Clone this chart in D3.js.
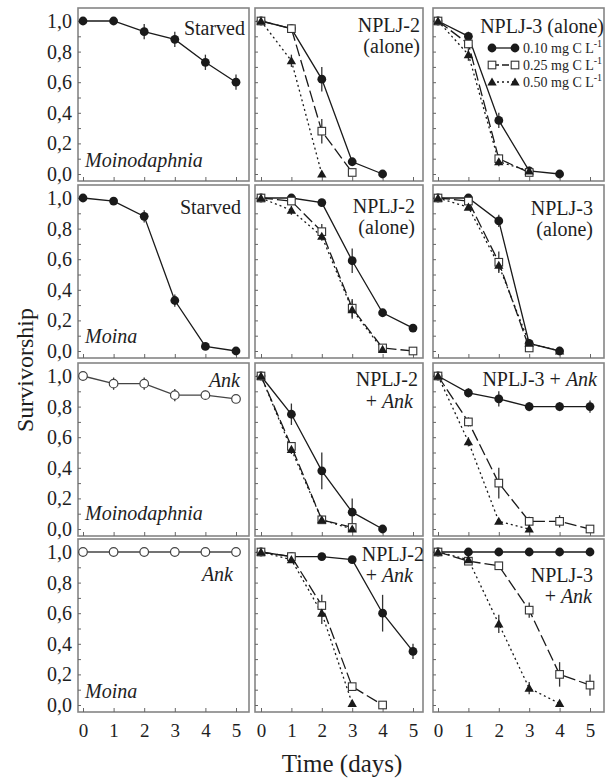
<!DOCTYPE html>
<html>
<head>
<meta charset="utf-8">
<script src="https://cdn.jsdelivr.net/npm/d3@7"></script>
<style>
  body { margin: 0; background: #fff; }
  svg text { font-family: 'Liberation Serif', 'Times New Roman', serif; fill: #1e1e1e; }
</style>
</head>
<body>
<svg id="chart" width="606" height="782"></svg>
<script>
'use strict'

// shared axes
const days = [0, 1, 2, 3, 4, 5];
const yTickValues = [0.0, 0.1, 0.2, 0.3, 0.4, 0.5, 0.6, 0.7, 0.8, 0.9, 1.0];
const yLabelValues = [0.0, 0.2, 0.4, 0.6, 0.8, 1.0];
const legendLabels = ['0.10 mg C L', '0.25 mg C L', '0.50 mg C L'];

// row 1 - Moinodaphnia, food alone
const mdStarved = [1.00, 1.00, 0.93, 0.88, 0.73, 0.60];
const mdStarvedSe = [0, 0, 0.05, 0.05, 0.05, 0.05];
const mdN2a010 = [1.00, 0.95, 0.62, 0.08, 0.00];
const mdN2a010se = [0, 0, 0.08, 0, 0];
const mdN2a025 = [1.00, 0.95, 0.28, 0.01];
const mdN2a025se = [0, 0, 0.08, 0];
const mdN2a050 = [1.00, 0.74, 0.00];
const mdN2a050se = [0, 0.04, 0];
const mdN3a010 = [1.00, 0.90, 0.35, 0.02, 0.00];
const mdN3a010se = [0, 0.03, 0.05, 0, 0];
const mdN3a025 = [1.00, 0.85, 0.10, 0.01];
const mdN3a025se = [0, 0.03, 0.03, 0];
const mdN3a050 = [1.00, 0.78, 0.08, 0.02];
const mdN3a050se = [0, 0.04, 0.03, 0];

// row 2 - Moina, food alone
const moStarved = [1.00, 0.98, 0.88, 0.33, 0.03, 0.00];
const moStarvedSe = [0, 0, 0.04, 0.04, 0, 0];
const moN2a010 = [1.00, 1.00, 0.97, 0.59, 0.25, 0.15];
const moN2a010se = [0, 0, 0, 0.08, 0, 0.02];
const moN2a025 = [1.00, 0.98, 0.78, 0.28, 0.02, 0.00];
const moN2a025se = [0, 0, 0.05, 0.06, 0, 0];
const moN2a050 = [1.00, 0.92, 0.75, 0.27, 0.01];
const moN2a050se = [0, 0.03, 0.03, 0.06, 0];
const moN3a010 = [1.00, 1.00, 0.85, 0.05, 0.00];
const moN3a010se = [0, 0, 0.04, 0, 0];
const moN3a025 = [1.00, 0.98, 0.58, 0.02];
const moN3a025se = [0, 0, 0.07, 0];
const moN3a050 = [1.00, 0.94, 0.56, 0.05, 0.00];
const moN3a050se = [0, 0, 0.04, 0, 0];

// row 3 - Moinodaphnia with Ankistrodesmus
const mdAnk = [1.00, 0.95, 0.95, 0.875, 0.875, 0.85];
const mdAnkSe = [0, 0.04, 0.04, 0.04, 0.03, 0];
const mdN2k010 = [1.00, 0.75, 0.38, 0.11, 0.00];
const mdN2k010se = [0, 0.07, 0.12, 0.09, 0];
const mdN2k025 = [1.00, 0.54, 0.06, 0.01];
const mdN2k025se = [0, 0, 0, 0];
const mdN2k050 = [1.00, 0.52, 0.06, 0.00];
const mdN2k050se = [0, 0.03, 0, 0];
const mdN3k010 = [1.00, 0.89, 0.85, 0.80, 0.80, 0.80];
const mdN3k010se = [0, 0.03, 0.05, 0.03, 0.03, 0.04];
const mdN3k025 = [1.00, 0.70, 0.30, 0.05, 0.05, 0.00];
const mdN3k025se = [0, 0.03, 0.10, 0.03, 0.04, 0];
const mdN3k050 = [1.00, 0.57, 0.05, 0.00];
const mdN3k050se = [0, 0.03, 0, 0];

// row 4 - Moina with Ankistrodesmus
const moAnk = [1.00, 1.00, 1.00, 1.00, 1.00, 1.00];
const moAnkSe = [0, 0, 0, 0, 0, 0];
const moN2k010 = [1.00, 0.97, 0.97, 0.95, 0.60, 0.35];
const moN2k010se = [0, 0, 0, 0, 0.12, 0.05];
const moN2k025 = [1.00, 0.97, 0.65, 0.12, 0.00];
const moN2k025se = [0, 0, 0.07, 0, 0];
const moN2k050 = [1.00, 0.95, 0.60, 0.01];
const moN2k050se = [0, 0, 0.07, 0];
const moN3k010 = [1.00, 1.00, 1.00, 1.00, 1.00, 1.00];
const moN3k010se = [0, 0, 0, 0, 0, 0];
const moN3k025 = [1.00, 0.94, 0.91, 0.62, 0.20, 0.13];
const moN3k025se = [0, 0.02, 0, 0.05, 0.08, 0.07];
const moN3k050 = [1.00, 0.95, 0.53, 0.11, 0.01];
const moN3k050se = [0, 0, 0.06, 0.04, 0];

// layout
const colFrame = [[78, 249], [255, 423], [433, 604]];
const colRange = [[83, 236], [261, 413], [438, 590]];
const rowTop = [21, 198, 376, 552];   // pixel row of 1,0
const rowSpan = 153;

const ser = (kind, v, e) => ({kind, v, e});
const three = (a, ae, b, be, c, ce) => [ser('dot', a, ae), ser('square', b, be), ser('tri', c, ce)];

// texts: [parts, anchor, dx from frame edge, dy from 1,0 row]
const panels = [
  {row: 0, col: 0, series: [ser('dot', mdStarved, mdStarvedSe)],
   texts: [[[['Starved']], 'end', -4, 14], [[['Moinodaphnia', 1]], 'start', 7, 146]]},
  {row: 0, col: 1, series: three(mdN2a010, mdN2a010se, mdN2a025, mdN2a025se, mdN2a050, mdN2a050se),
   texts: [[[['NPLJ-2']], 'end', -3, 11], [[['(alone)']], 'end', -3, 32]]},
  {row: 0, col: 2, series: three(mdN3a010, mdN3a010se, mdN3a025, mdN3a025se, mdN3a050, mdN3a050se), legend: true,
   texts: [[[['NPLJ-3 (alone)']], 'end', 0, 12]]},
  {row: 1, col: 0, series: [ser('dot', moStarved, moStarvedSe)],
   texts: [[[['Starved']], 'end', -8, 16], [[['Moina', 1]], 'start', 7, 145]]},
  {row: 1, col: 1, series: three(moN2a010, moN2a010se, moN2a025, moN2a025se, moN2a050, moN2a050se),
   texts: [[[['NPLJ-2']], 'end', -8, 15], [[['(alone)']], 'end', -8, 36]]},
  {row: 1, col: 2, series: three(moN3a010, moN3a010se, moN3a025, moN3a025se, moN3a050, moN3a050se),
   texts: [[[['NPLJ-3']], 'end', -11, 17], [[['(alone)']], 'end', -11, 38]]},
  {row: 2, col: 0, series: [ser('ring', mdAnk, mdAnkSe)],
   texts: [[[['Ank', 1]], 'end', -9, 11], [[['Moinodaphnia', 1]], 'start', 7, 144]]},
  {row: 2, col: 1, series: three(mdN2k010, mdN2k010se, mdN2k025, mdN2k025se, mdN2k050, mdN2k050se),
   texts: [[[['NPLJ-2']], 'end', -5, 10], [[['+ '], ['Ank', 1]], 'end', -10, 32]]},
  {row: 2, col: 2, series: three(mdN3k010, mdN3k010se, mdN3k025, mdN3k025se, mdN3k050, mdN3k050se),
   texts: [[[['NPLJ-3 + '], ['Ank', 1]], 'end', -7, 10]]},
  {row: 3, col: 0, series: [ser('ring', moAnk, moAnkSe)],
   texts: [[[['Ank', 1]], 'end', -16, 29], [[['Moina', 1]], 'start', 7, 146]]},
  {row: 3, col: 1, series: three(moN2k010, moN2k010se, moN2k025, moN2k025se, moN2k050, moN2k050se),
   texts: [[[['NPLJ-2']], 'end', 1, 9], [[['+ '], ['Ank', 1]], 'end', -10, 30]]},
  {row: 3, col: 2, series: three(moN3k010, moN3k010se, moN3k025, moN3k025se, moN3k050, moN3k050se),
   texts: [[[['NPLJ-3']], 'end', -11, 30], [[['+ '], ['Ank', 1]], 'end', -12, 51]]}
];

const dash = {dot: null, ring: null, square: '12,4', tri: '2,3'};
const fmt = d => d3.format('.1f')(d).replace('.', ',');

let svg = d3.select('#chart');

function marker(g, kind, cx, cy) {
  if (kind === 'dot') {
    g.append('circle').attr('cx', cx).attr('cy', cy).attr('r', 4.4).attr('fill', '#1a1a1a');
  } else if (kind === 'ring') {
    g.append('circle').attr('cx', cx).attr('cy', cy).attr('r', 4.3)
      .attr('fill', '#fff').attr('stroke', '#444').attr('stroke-width', 1.2);
  } else if (kind === 'square') {
    g.append('rect').attr('x', cx - 3.8).attr('y', cy - 3.8).attr('width', 7.6).attr('height', 7.6)
      .attr('fill', '#fff').attr('stroke', '#333').attr('stroke-width', 1.1);
  } else {
    g.append('path').attr('transform', `translate(${cx},${cy + 0.8})`)
      .attr('d', d3.symbol(d3.symbolTriangle).size(38)).attr('fill', '#1a1a1a');
  }
}

function drawPanel(p) {
  let [fx0, fx1] = colFrame[p.col],
      y1 = rowTop[p.row], y0 = y1 + rowSpan,
      fTop = y1 - 13, fBot = y0 + 7;

  let x = d3.scaleLinear().domain([0, 5]).range(colRange[p.col]),
      y = d3.scaleLinear().domain([0, 1]).range([y0, y1]);

  let g = svg.append('g');

  g.append('rect')
    .attr('x', fx0).attr('y', fTop)
    .attr('width', fx1 - fx0).attr('height', fBot - fTop)
    .attr('fill', 'none').attr('stroke', '#858585').attr('stroke-width', 1.6);

  let yAxis = d3.axisLeft(y).tickValues(yTickValues).tickSize(-3).tickPadding(6)
    .tickFormat(d => (p.col === 0 && yLabelValues.some(v => Math.abs(v - d) < 1e-6)) ? fmt(d) : '');
  let ya = g.append('g').attr('transform', `translate(${fx0},0)`).call(yAxis);
  ya.select('.domain').remove();
  ya.selectAll('line').attr('stroke', '#666');
  ya.selectAll('text').attr('font-size', 20).attr('font-family', null);

  let xAxis = d3.axisBottom(x).tickValues(days).tickSize(-4).tickPadding(12)
    .tickFormat(d => p.row === 3 ? d : '');
  let xa = g.append('g').attr('transform', `translate(0,${fBot})`).call(xAxis);
  xa.select('.domain').remove();
  xa.selectAll('line').attr('stroke', '#666');
  xa.selectAll('text').attr('font-size', 19).attr('font-family', null);

  let line = d3.line().x((d, i) => x(days[i])).y(d => y(d));

  p.series.forEach(s => {
    g.append('path').datum(s.v)
      .attr('d', line)
      .attr('fill', 'none')
      .attr('stroke', s.kind === 'ring' ? '#444' : '#1a1a1a')
      .attr('stroke-width', 1.3)
      .attr('stroke-dasharray', dash[s.kind]);
  });

  p.series.forEach(s => {
    s.v.forEach((v, i) => {
      if (!s.e[i]) return;
      g.append('line')
        .attr('x1', x(days[i])).attr('x2', x(days[i]))
        .attr('y1', y(v - s.e[i])).attr('y2', y(Math.min(1.02, v + s.e[i])))
        .attr('stroke', '#333').attr('stroke-width', 1.3);
    });
  });

  p.series.forEach(s => {
    s.v.forEach((v, i) => marker(g, s.kind, x(days[i]), y(v)));
  });

  p.texts.forEach(([parts, anchor, dx, dy]) => {
    let t = g.append('text')
      .attr('x', anchor === 'end' ? fx1 + dx : fx0 + dx)
      .attr('y', y1 + dy)
      .attr('text-anchor', anchor)
      .attr('font-size', 20);
    parts.forEach(([s, it]) => t.append('tspan').attr('font-style', it ? 'italic' : null).text(s));
  });

  if (p.legend) {
    let kinds = ['dot', 'square', 'tri'];
    kinds.forEach((k, i) => {
      let ly = y1 + 27 + i * 17, lx0 = fx0 + 59, lx1 = fx0 + 82;
      g.append('line').attr('x1', lx0).attr('x2', lx1).attr('y1', ly).attr('y2', ly)
        .attr('stroke', '#1a1a1a').attr('stroke-width', 1.3).attr('stroke-dasharray', dash[k] === '12,4' ? '7,3' : dash[k]);
      marker(g, k, lx0, ly);
      marker(g, k, lx1, ly);
      let t = g.append('text').attr('x', lx1 + 8).attr('y', ly + 5).attr('font-size', 14);
      t.append('tspan').text(legendLabels[i]);
      t.append('tspan').attr('font-size', 10).attr('dy', -6).text('-1');
    });
  }
}

panels.forEach(drawPanel);

svg.append('text')
  .attr('x', 342).attr('y', 772)
  .attr('text-anchor', 'middle')
  .attr('font-size', 25)
  .text('Time (days)');

svg.append('text')
  .attr('transform', 'translate(33,370) rotate(-90)')
  .attr('text-anchor', 'middle')
  .attr('font-size', 24)
  .text('Survivorship');
</script>
</body>
</html>
